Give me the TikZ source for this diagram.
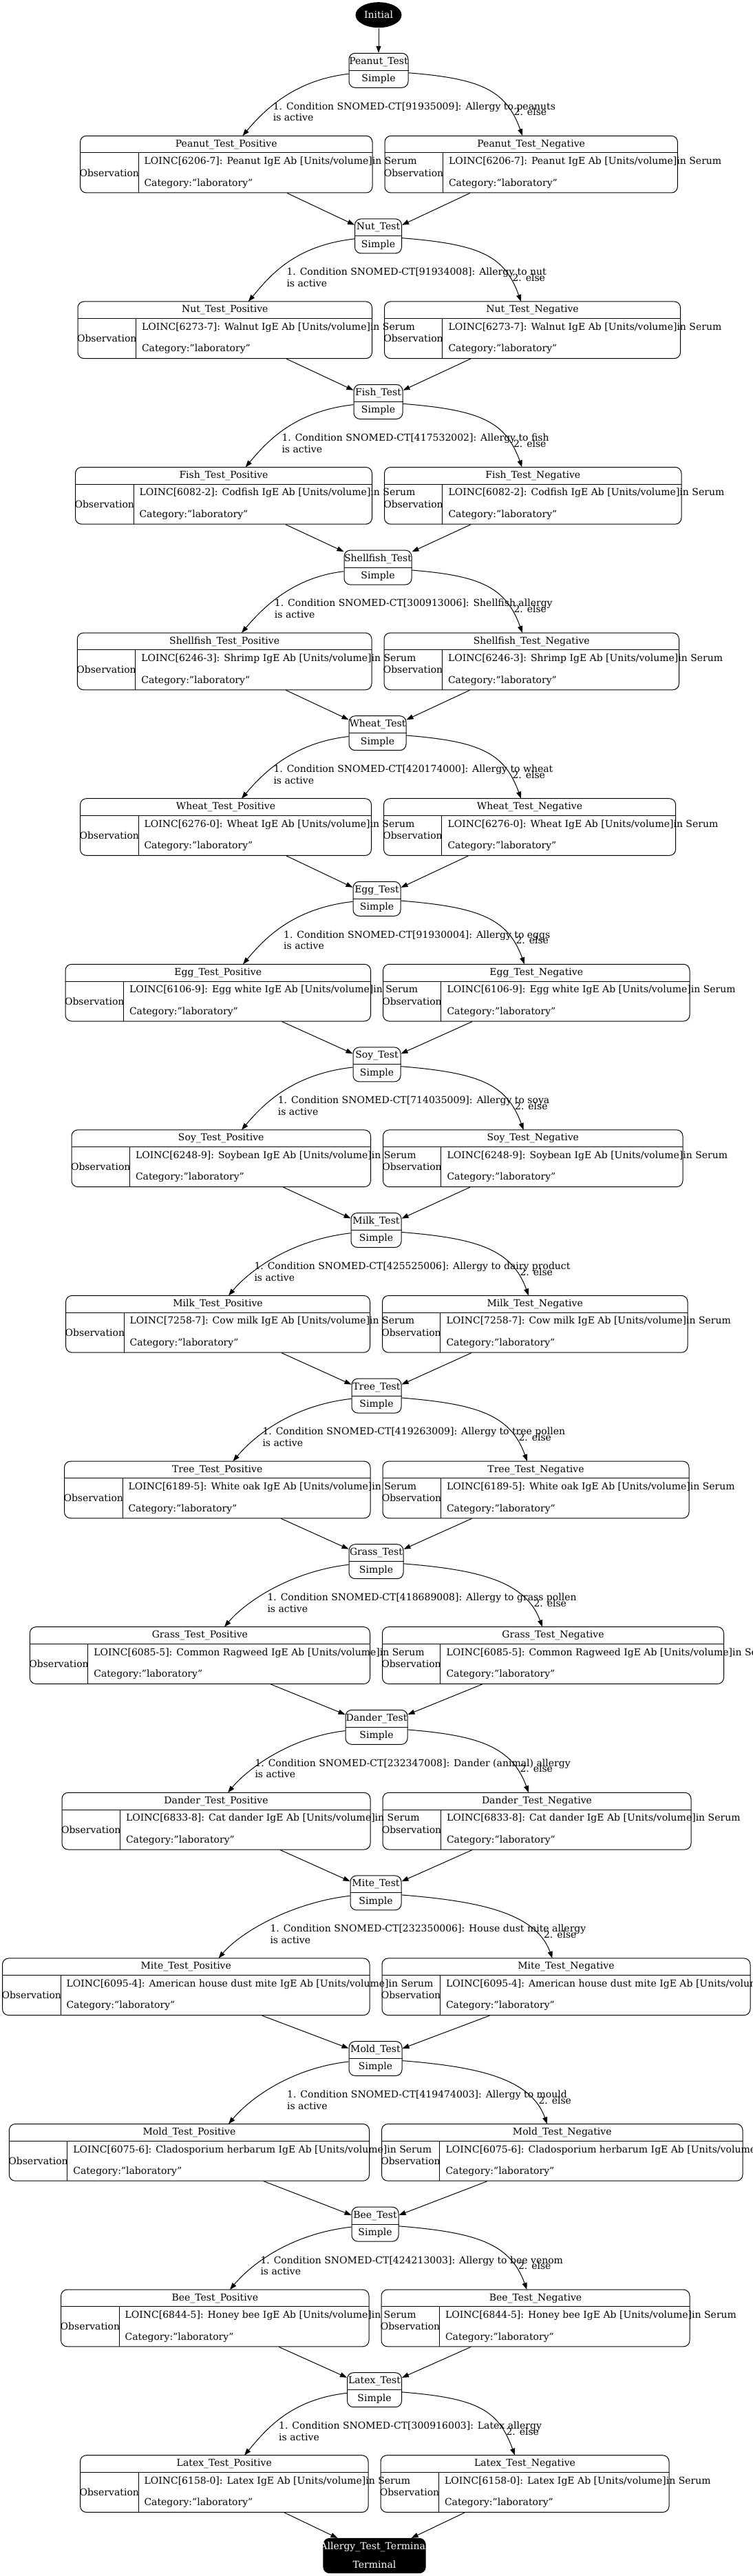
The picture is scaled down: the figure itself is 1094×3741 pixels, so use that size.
\documentclass[tikz,border=0pt]{standalone}
\usepackage{fontspec}
\setmainfont{DejaVu Serif}
\usetikzlibrary{arrows.meta,shapes.geometric}
\begin{document}
\begin{tikzpicture}[x=1pt,y=-1pt,
  font=\fontsize{14}{16.7}\selectfont, line width=1pt,
  arr/.style={-{Triangle[length=10pt,width=7pt]}},
  testbox/.style={draw, rounded corners=9pt, inner sep=0pt, minimum height=50pt},
  obsbox/.style={draw, rounded corners=9pt, inner sep=0pt, minimum height=82.7pt},
  txt/.style={inner sep=0pt},
  lbl/.style={inner sep=0pt, anchor=west, align=left}]
\fill[white] (0,0) rectangle (1094,3741);
\useasboundingbox (0,0) rectangle (1094,3741);
\node[ellipse, fill=black, text=white, minimum width=67pt, minimum height=37pt, inner sep=0pt] (init) at (550,21.7) {Initial};
\foreach \kk/\nm/\cx/\hw/\pl/\nr/\lx/\alr/\arr/\lcode/\an/\cond in {
0/Peanut/550/43/116.5/984.4/396.3/352.4/759.2/6206-7/Peanut/{SNOMED-CT[91935009]: Allergy to peanuts},
1/Nut/549.5/34/113/988.6/416/360.8/757/6273-7/Walnut/{SNOMED-CT[91934008]: Allergy to nut},
2/Fish/549.5/35.5/109.5/990/409/356.6/758.5/6082-2/Codfish/{SNOMED-CT[417532002]: Allergy to fish},
3/Shellfish/549/49/112.3/986.5/398.4/351/759/6246-3/Shrimp/{SNOMED-CT[300913006]: Shellfish allergy},
4/Wheat/548.5/41.5/116.5/981.6/397/351/757/6276-0/Wheat/{SNOMED-CT[420174000]: Allergy to wheat},
5/Egg/547.5/34.5/95/1002/411.7/353/762/6106-9/Egg white/{SNOMED-CT[91930004]: Allergy to eggs},
6/Soy/547.5/34.5/104/992/403.3/351/760.6/6248-9/Soybean/{SNOMED-CT[714035009]: Allergy to soya},
7/Milk/546.5/36.5/95.6/999/369/332/768/7258-7/Cow milk/{SNOMED-CT[425525006]: Allergy to dairy product},
8/Tree/547/36/93.5/1001/381/338.5/766/6189-5/White oak/{SNOMED-CT[419263009]: Allergy to tree pollen},
9/Grass/546.5/39.5/43.3/1051.5/388/326/788/6085-5/Common Ragweed/{SNOMED-CT[418689008]: Allergy to grass pollen},
10/Dander/547/45/90/1004/370/331/768/6833-8/Cat dander/{SNOMED-CT[232347008]: Dander (animal) allergy},
11/Mite/546/37/3.5/1090/392/317.5/802.5/6095-4/American house dust mite/{SNOMED-CT[232350006]: House dust mite allergy},
12/Mold/545.5/38.5/13.3/1079/416.6/332/795/6075-6/Cladosporium herbarum/{SNOMED-CT[419474003]: Allergy to mould},
13/Bee/545/34/88.6/1002/378/334/765.5/6844-5/Honey bee/{SNOMED-CT[424213003]: Allergy to bee venom},
14/Latex/544/39.5/116.5/972/404.7/355/748/6158-0/Latex/{SNOMED-CT[300916003]: Latex allergy}}{
  \pgfmathsetmacro\T{77.3+240.6*\kk}
  \pgfmathsetmacro\tw{2*\hw}
  \pgfmathsetmacro\pr{\cx-9}
  \pgfmathsetmacro\nl{\cx+9}
  \pgfmathsetmacro\pw{\pr-\pl}
  \pgfmathsetmacro\pc{(\pr+\pl)/2}
  \pgfmathsetmacro\nw{\nr-\nl}
  \pgfmathsetmacro\nc{(\nr+\nl)/2}
  % test node
  \node[testbox, minimum width=\tw pt] (t\kk) at (\cx,\T+25) {};
  \draw (t\kk.west) -- (t\kk.east);
  \node[txt] (tn\kk) at (\cx,\T+12.5) {\nm\_Test};
  \node[txt] (ts\kk) at (\cx,\T+37.5) {Simple};
  % incoming arrows
  \ifnum\kk>0
    \pgfmathtruncatemacro\prv{\kk-1}
    \draw[arr] (p\prv) -- (t\kk);
    \draw[arr] (n\prv) -- (t\kk);
  \else
    \draw[arr] (init) -- (t\kk);
  \fi
  % result boxes
  \node[obsbox, minimum width=\pw pt] (p\kk) at (\pc,\T+161.35) {};
  \node[obsbox, minimum width=\nw pt] (n\kk) at (\nc,\T+161.35) {};
  \draw (\pl,\T+144.7) -- (\pr,\T+144.7);
  \draw (\pl+84.5,\T+144.7) -- (\pl+84.5,\T+202.7);
  \draw (\nl,\T+144.7) -- (\nr,\T+144.7);
  \draw (\nl+84,\T+144.7) -- (\nl+84,\T+202.7);
  \node[txt] (ph\kk) at (\pc,\T+132.4) {\nm\_Test\_Positive};
  \node[txt] (nh\kk) at (\nc,\T+132.4) {\nm\_Test\_Negative};
  \node[txt] (po\kk) at (\pl+42.25,\T+173.5) {Observation};
  \node[txt] (no\kk) at (\nl+42,\T+173.5) {Observation};
  \node[lbl] (pt\kk) at (\pl+92.5,\T+157.7) {LOINC[\lcode]: \an{} IgE Ab [Units/volume]in Serum};
  \node[lbl] (nt\kk) at (\nl+92.5,\T+157.7) {LOINC[\lcode]: \an{} IgE Ab [Units/volume]in Serum};
  \node[lbl] (pk\kk) at (\pl+92.5,\T+189.3) {Category:"laboratory"};
  \node[lbl] (nk\kk) at (\nl+92.5,\T+189.3) {Category:"laboratory"};
  % branch edges
  \coordinate (la\kk) at (\alr,\T+120);
  \coordinate (ra\kk) at (\arr,\T+120);
  \draw[arr] (t\kk) .. controls (\cx-122,\T+39) and (\alr+32,\T+82) .. (la\kk);
  \draw[arr] (t\kk) .. controls (\cx+150,\T+37) and (\arr-24,\T+54) .. (ra\kk);
  \node[lbl] (c\kk) at (\lx,\T+85) {1. Condition \cond\\is active};
  \node[lbl] (e\kk) at (\arr-13,\T+85.3) {2. else};
}
\node[fill=black, draw=black, rounded corners=9pt, minimum width=148.4pt, minimum height=50.3pt, inner sep=0pt] (t15) at (544,3711.5) {};
\node[txt, text=white] (tt15) at (544,3698.8) {Allergy\_Test\_Terminal};
\node[txt, text=white] (ts15) at (544,3724) {Terminal};
\draw[arr] (p14) -- (t15);
\draw[arr] (n14) -- (t15);
\end{tikzpicture}
\end{document}
